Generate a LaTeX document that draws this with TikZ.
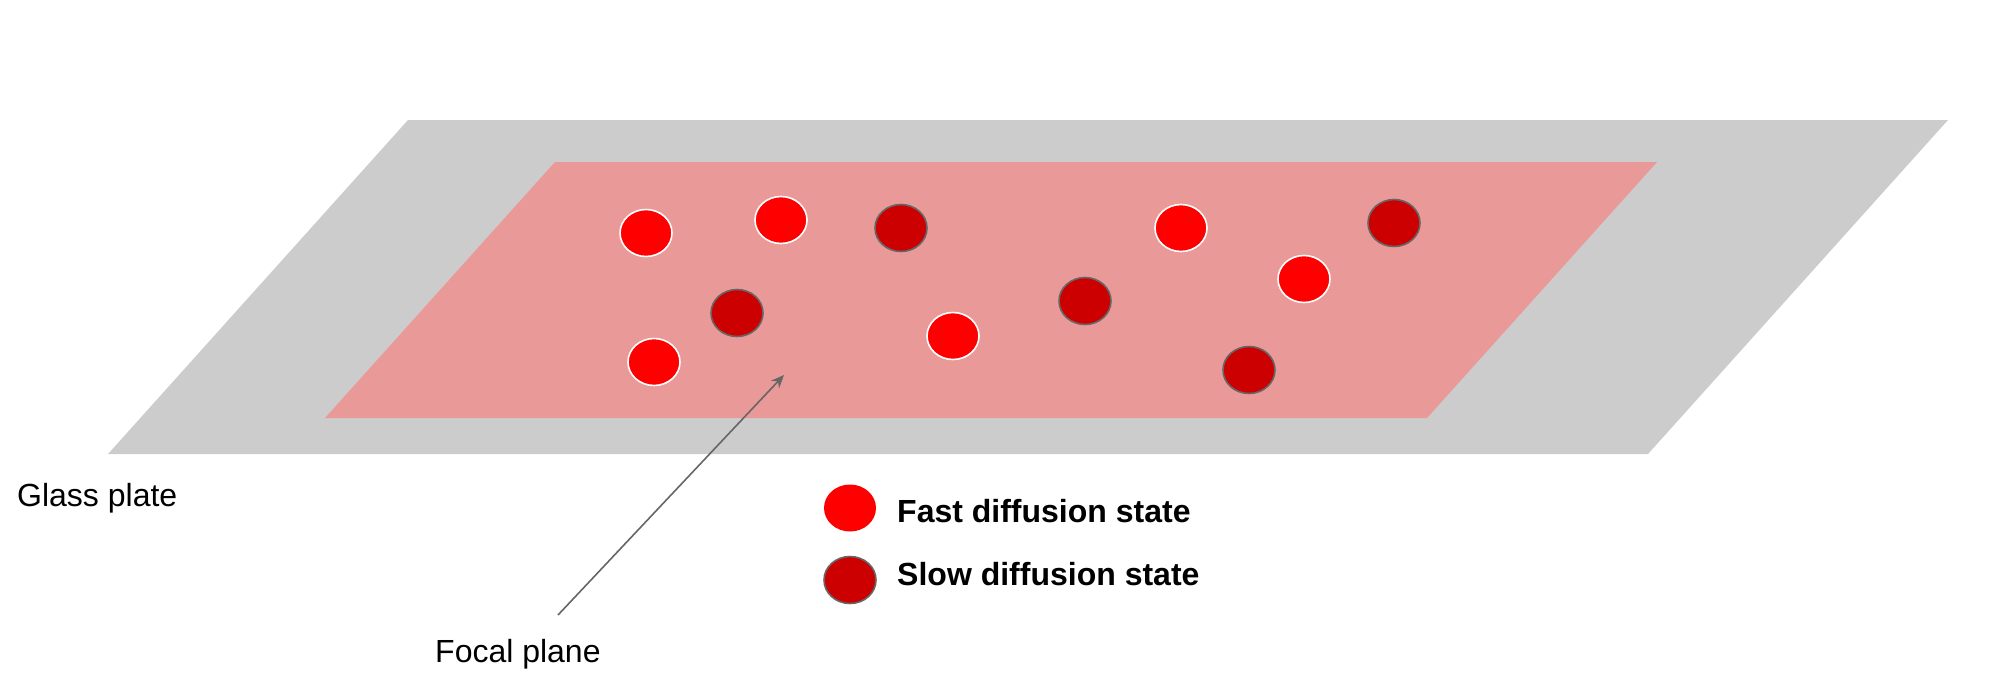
\documentclass[tikz,border=0pt]{standalone}
\usepackage{fontspec}
\setmainfont{Liberation Sans}
\usetikzlibrary{arrows.meta,shapes.geometric}
\definecolor{glasscol}{HTML}{CCCCCC}
\definecolor{planecol}{HTML}{EA9999}
\definecolor{fastcol}{HTML}{FF0000}
\definecolor{slowcol}{HTML}{CC0000}
\definecolor{rimcol}{HTML}{666666}
\begin{document}
\begin{tikzpicture}[x=1pt,y=-1pt,
  dot/.style={shape=ellipse,minimum width=52pt,minimum height=47pt,inner sep=0pt,line width=1.6pt},
  fastdot/.style={dot,fill=fastcol,draw=white},
  slowdot/.style={dot,fill=slowcol,draw=rimcol},
  lbl/.style={anchor=base west,inner sep=0pt,font=\fontsize{32}{38}\selectfont},
  boldlbl/.style={lbl,font=\fontsize{32}{38}\selectfont\bfseries},
  pointer/.style={draw=rimcol,line width=1.6pt,-{Stealth[length=13pt,width=11pt]}}]
\useasboundingbox (0,0) rectangle (2000,689);
% glass plate
\fill[glasscol] (408,120) -- (1948,120) -- (1648,454) -- (108,454) -- cycle;
% focal plane
\fill[planecol] (555,162) -- (1657,162) -- (1427,418) -- (325,418) -- cycle;
% molecules
\node[fastdot] (f1) at (646,233) {};
\node[fastdot] (f2) at (781,220) {};
\node[fastdot] (f3) at (1181,228) {};
\node[fastdot] (f4) at (1304,279) {};
\node[fastdot] (f5) at (654,362) {};
\node[fastdot] (f6) at (953,336) {};
\node[slowdot] (s1) at (901,228) {};
\node[slowdot] (s2) at (737,313) {};
\node[slowdot] (s3) at (1085,301) {};
\node[slowdot] (s4) at (1394,223) {};
\node[slowdot] (s5) at (1249,370) {};
% labels
\node[lbl] (glass) at (17,506) {Glass plate};
\node[lbl] (focal) at (435,662) {Focal plane};
\coordinate (tail) at (558,615);
\coordinate (tip) at (784,375);
\draw[pointer] (tail) -- (tip);
% legend
\node[fastdot,draw=none] (lf) at (850,508) {};
\node[slowdot] (ls) at (850,580) {};
\node[boldlbl] (lft) at (897,522) {Fast diffusion state};
\node[boldlbl] (lst) at (897,585) {Slow diffusion state};
\end{tikzpicture}
\end{document}
